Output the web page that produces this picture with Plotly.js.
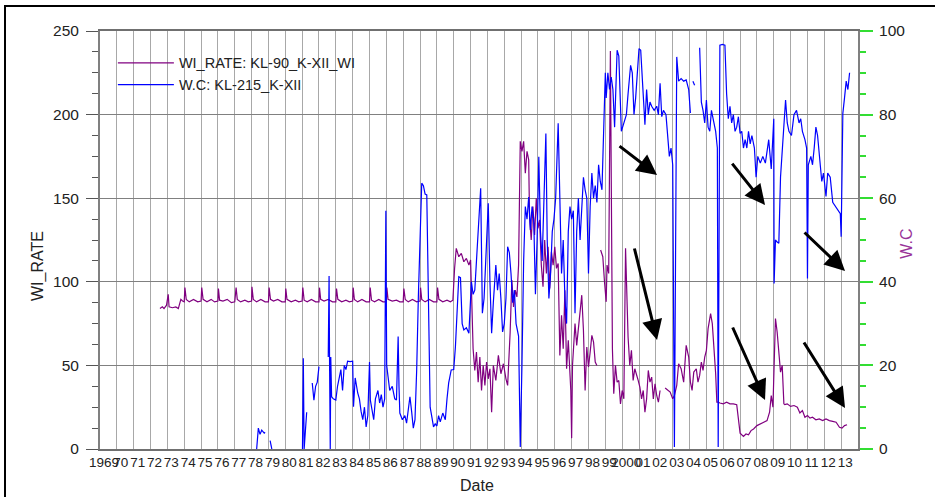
<!DOCTYPE html>
<html>
<head>
<meta charset="utf-8">
<script src="https://cdn.plot.ly/plotly-3.0.1.min.js"></script>
<style>
html,body{margin:0;padding:0;background:#fff;}
#wrap{position:relative;width:935px;height:497px;overflow:hidden;}
#chart{width:935px;height:497px;}
#frame{position:absolute;left:4px;top:5px;width:1200px;height:800px;border-left:2px solid #000;border-top:2px solid #000;pointer-events:none;}
</style>
</head>
<body>
<div id="wrap"><div id="chart"></div><div id="frame"></div></div>
<script>
// ---------- tick labels ----------
const yearTicks = [1969,1970,1971,1972,1973,1974,1975,1976,1977,1978,1979,1980,1981,1982,1983,1984,1985,1986,1987,1988,1989,1990,1991,1992,1993,1994,1995,1996,1997,1998,1999,2000,2001,2002,2003,2004,2005,2006,2007,2008,2009,2010,2011,2012,2013];
const yearLabels = ["1969","70","71","72","73","74","75","76","77","78","79","80","81","82","83","84","85","86","87","88","89","90","91","92","93","94","95","96","97","98","99","2000","01","02","03","04","05","06","07","08","09","10","11","12","13"];

// ---------- series names ----------
const wiName = "WI_RATE: KL-90_K-XII_WI";
const wcName = "W.C: KL-215_K-XII";

// ---------- WI_RATE (left axis) ----------
const wiDates = [
1972.56,1972.7,1972.8,1972.95,1973.05,1973.1,1973.3,1973.5,1973.65,1973.8,1973.9,
1974.0,1974.04,1974.12,1974.3,1974.55,1974.8,
1975.0,1975.04,1975.12,1975.35,1975.6,1975.8,
1976.0,1976.03,1976.1,1976.3,1976.55,1976.8,
1977.0,1977.08,1977.15,1977.35,1977.6,1977.8,
1978.0,1978.02,1978.1,1978.3,1978.55,1978.8,
1979.0,1979.04,1979.12,1979.3,1979.55,1979.8,
1980.0,1980.03,1980.1,1980.35,1980.6,1980.8,
1981.0,1981.04,1981.12,1981.3,1981.55,1981.8,
1982.0,1982.03,1982.1,1982.3,1982.55,1982.8,
1983.0,1983.04,1983.12,1983.35,1983.6,1983.8,
1984.0,1984.03,1984.1,1984.3,1984.55,1984.8,
1985.0,1985.04,1985.12,1985.3,1985.55,1985.8,
1986.0,1986.03,1986.1,1986.35,1986.6,1986.8,
1987.0,1987.04,1987.12,1987.3,1987.55,1987.8,
1988.0,1988.03,1988.1,1988.3,1988.55,1988.8,
1989.0,1989.04,1989.12,1989.35,1989.6,1989.8,1989.95,
1990.05,1990.15,1990.3,1990.45,1990.6,1990.75,1990.9,1991.0,1991.07,1991.15,1991.25,1991.35,1991.45,1991.55,1991.65,1991.75,1991.85,1991.95,
1992.05,1992.15,1992.25,1992.35,1992.5,1992.65,1992.8,1992.95,1993.1,1993.2,1993.35,1993.45,1993.55,1993.65,1993.75,1993.85,1993.95,
1994.05,1994.15,1994.25,1994.35,1994.45,1994.5,1994.6,1994.7,1994.8,1994.9,1995.0,1995.1,1995.2,1995.3,1995.4,1995.5,1995.6,1995.7,1995.8,1995.9,
1996.0,1996.1,1996.2,1996.3,1996.4,1996.5,1996.6,1996.7,1996.8,1996.95,1997.0,1997.05,1997.2,1997.3,1997.45,1997.6,1997.7,1997.8,1997.9,
1998.0,1998.1,1998.2,1998.3,1998.4,1998.5,1998.62,1998.72,1998.85,1998.95,1999.05,1999.1,1999.2,1999.3,1999.38,1999.42,1999.5,1999.6,1999.7,1999.8,1999.9,
2000.0,2000.1,2000.2,2000.35,2000.45,2000.55,2000.65,2000.75,2000.85,2000.95,2001.05,2001.15,2001.25,2001.35,2001.45,2001.55,2001.65,2001.75,2001.85,2001.95,
2002.05,2002.15,2002.25,2002.3,2002.55,2002.85,2003.0,2003.1,2003.24,2003.35,2003.5,2003.65,2003.8,2003.95,2004.05,2004.15,2004.25,2004.4,2004.5,2004.6,2004.7,2004.8,2004.9,
2005.0,2005.1,2005.25,2005.35,2005.45,2005.55,2005.62,2005.7,2005.8,2006.0,2006.2,2006.4,2006.6,2006.8,2007.0,2007.05,2007.2,2007.35,2007.5,2007.65,2007.8,
2008.0,2008.2,2008.4,2008.6,2008.75,2008.85,2008.95,2009.0,2009.1,2009.2,2009.3,2009.4,2009.5,2009.6,2009.65,2009.8,
2010.0,2010.2,2010.4,2010.55,2010.7,2010.85,2011.0,2011.15,2011.3,2011.5,2011.7,2011.9,2012.1,2012.3,2012.5,2012.7,2012.9,2013.05,2013.2,2013.35,2013.5
];
const wiRate = [
84,85,84,86,92.5,85,84.5,85,84,89.5,88.5,
88,96.5,89.5,88,89.5,88,
88.5,96.5,89.5,88,89.5,88,
88.5,96,89,88.5,89.5,87.5,
88,96.5,89.5,88,89,88,
88.5,97,89.5,88,89.5,88,
88,96.5,89.5,88.5,89.5,88,
88,96,89.5,88,89,88,
88.5,96.5,89,88,89.5,88,
88,96.5,89.5,88.5,89.5,88,
88,96,89.5,88,89,88,
88.5,96.5,89.5,88,89.5,88,
88,96.5,89,88,89.5,88,
88,96.5,89.5,88.5,89,88,
88,96,89.5,88,89.5,88,
88.5,96.5,89.5,88,89.5,88,
88,96.5,89.5,88,89,88,89,
108,120,115,117,112,114,110,113,89,60,47,58,40,55,35,50,38,52,
42,48,22,50,41,56,45,51,42,38,70,101,85,95,91,110,184,
178,184,165,178,173,139,125,145,128,150,132,137,110,97,125,105,121,96,118,110,
121,108,111,56,80,60,95,48,65,35,6.5,50,75,62,78,92,71,35,61,
49,58,68,64,52,50,null,119,115,100,88,110,105,238,148,60,33,50,40,41,
27,35,30,120,67,50,59,41,48,45,41,37,30,35,22,30,47,40,43,30,
39,32,28,35,null,36.5,34,30,32,38,51,48,40,62,55,40,35,46,48,40,44,52,47,
55,59,72,81,75,62,45,28,28,27.5,27,28,27,27,26.5,9.5,9,7.5,9,8.5,11,
12,14,15,16,17,22,32,25,50,78,70,57,46,50,27,26.5,
27,25.5,26,25,21.5,23,19,20,18.5,19,17.5,18,17,18,17,16.5,16,13,12.5,14,14.5
];

// ---------- W.C (right axis) ----------
const wcDates = [
1978.3,1978.4,1978.5,1978.6,1978.75,1978.8,1978.95,1979.1,1979.2,1980.5,
1981.02,1981.07,1981.12,1981.2,1981.27,1981.4,1981.6,1981.65,1981.7,1981.8,1981.9,1982.0,1982.3,
1982.55,1982.6,1982.63,1982.67,1982.7,1982.75,1982.85,1983.0,1983.1,1983.2,1983.3,1983.4,1983.5,1983.6,1983.7,1983.85,
1984.0,1984.05,1984.15,1984.3,1984.4,1984.5,1984.6,1984.7,1984.8,1984.9,
1985.0,1985.05,1985.15,1985.25,1985.35,1985.5,1985.6,1985.7,1985.8,1985.9,1985.97,
1986.02,1986.1,1986.2,1986.35,1986.5,1986.6,1986.7,1986.75,1986.8,1986.95,
1987.1,1987.2,1987.3,1987.4,1987.5,1987.6,1987.7,1987.8,1987.9,
1988.05,1988.1,1988.2,1988.3,1988.4,1988.5,1988.6,1988.7,1988.8,1988.9,
1989.0,1989.1,1989.2,1989.35,1989.5,1989.6,1989.7,1989.85,
1990.0,1990.1,1990.2,1990.3,1990.4,1990.5,1990.6,1990.75,1990.9,
1991.05,1991.15,1991.25,1991.35,1991.5,1991.6,1991.7,1991.8,1991.9,
1992.05,1992.15,1992.25,1992.35,1992.5,1992.6,1992.7,1992.8,1992.9,
1993.0,1993.1,1993.2,1993.3,1993.4,1993.5,1993.6,1993.7,1993.85,1993.95,
1994.05,1994.15,1994.25,1994.35,1994.45,1994.55,1994.65,1994.75,1994.85,1994.95,
1995.05,1995.15,1995.25,1995.35,1995.47,1995.55,1995.65,1995.75,1995.85,1995.95,
1996.05,1996.2,1996.3,1996.4,1996.5,1996.6,1996.7,1996.8,1996.9,
1997.0,1997.1,1997.2,1997.3,1997.4,1997.5,1997.6,1997.7,1997.8,1997.9,
1998.0,1998.1,1998.2,1998.3,1998.4,1998.5,1998.6,1998.7,1998.8,1998.9,
1999.0,1999.05,1999.15,1999.25,1999.35,1999.45,1999.55,1999.7,1999.8,1999.95,
2000.1,2000.25,2000.35,2000.5,2000.6,2000.7,2000.8,2000.9,
2001.0,2001.1,2001.2,2001.25,2001.35,2001.45,2001.55,2001.65,2001.75,2001.9,
2002.05,2002.15,2002.25,2002.35,2002.45,2002.6,2002.7,2002.8,2002.9,
2003.0,2003.1,2003.2,2003.24,2003.35,2003.5,2003.65,2003.8,2003.95,
2004.05,2004.15,2004.2,2004.3,2004.45,2004.6,2004.7,2004.8,2004.9,
2005.0,2005.1,2005.2,2005.3,2005.4,2005.55,2005.65,2005.7,2005.8,2005.95,
2006.1,2006.2,2006.3,2006.4,2006.5,2006.6,2006.7,2006.8,2006.9,
2007.0,2007.1,2007.2,2007.3,2007.4,2007.5,2007.6,2007.7,2007.85,2007.95,
2008.05,2008.2,2008.35,2008.5,2008.7,2008.85,
2009.0,2009.02,2009.1,2009.2,2009.3,2009.4,2009.55,2009.7,2009.8,2009.9,
2010.05,2010.2,2010.35,2010.5,2010.6,2010.7,2010.85,2010.95,
2011.0,2011.05,2011.2,2011.3,2011.4,2011.5,2011.6,2011.75,2011.85,2011.95,
2012.1,2012.2,2012.35,2012.5,2012.65,2012.8,2012.95,
2013.0,2013.1,2013.2,2013.3,2013.4,2013.5
];
const wcValues = [
0,5,3.5,4.5,3.8,4,null,2,0,null,
0,21.7,0,6,8.8,null,15.8,14,11.7,15,16,19.7,null,
22,41.4,20,0,22,12.5,12,11.7,15,17,19,14,20,19,21,20.9,
21,10.1,17,13.4,12,9,7,10,5.3,8,
20.8,11.7,9,7,12,14,11,13,10,12,57,
20,17.3,14,15,12,11.7,26.9,15,8.6,7,
8,6.2,10,12.5,9,5,7,18.9,36.4,
55,63.6,63,61,60.8,28.5,10,7.7,5.3,6,
5.5,8,6.5,8.6,7,12,15.8,18.9,
19,24.5,32.5,41.2,41,30,28.5,29,27.7,
40,37,38,45,55,62.4,32.5,36,45,
58.8,40,27.7,35,44,38,42,36,28,
30,36,48.4,47,42,35,38,30,27,0.5,
20,45,58,55,60.3,52.4,58,55,37,50,
69.9,52,45,60,75.5,50,36,42,52,55,
60,77.9,60,42,50,36,30,52,58,
55,57,32.5,52,60,50,58,65,62,60,
42,58,66,60,63,59,68,64,62,74.6,
90,84,90,86,89,86,77,95.4,94,76,
78,80,85,91.8,90,80,84,90,
95.8,95.4,88,82.7,77.6,86,80,83,82,81,
82,80,87.5,79.5,81,80,74,70,72,
68,0.5,60,93.8,88,88.6,88,88.3,86,
80.4,null,88,87,null,96,83,81,78,
83.5,77,76,81,79,76,72,0.5,96.6,96.8,
96.6,85,79,82,78,80,76,77,79.5,
75.5,76,72,74,72,76,73,75,72,65,
70,68.4,70,68.4,74,67,
79,39.6,50,49.5,49.2,65,75,83.5,78,76,
75,80,81,78,79,76,74,72,
40.8,68,70,68,72,77,75,68.4,64,66,
60.4,66,65,59,58,57,56.3,
50.8,80.3,84,88,86,90
];

// ---------- annotation arrows (tip position in data units, tail offset in px) ----------
const arrowTipX = [2002.07, 2002.07, 2008.48, 2013.23, 2008.48, 2013.23];
const arrowTipY = [163.9, 65.2, 145.9, 106.4, 29.3, 24.5];
const arrowAx = [-39, -23, -34, -42, -33, -42];
const arrowAy = [-30, -93, -43, -40, -74, -67];

const FONT = "'Liberation Sans', Arial, sans-serif";

const traces = [
  {x: wiDates, y: wiRate, type: 'scatter', mode: 'lines', name: wiName,
   line: {color: '#800080', width: 1.2}, connectgaps: false, yaxis: 'y'},
  {x: wcDates, y: wcValues, type: 'scatter', mode: 'lines', name: wcName,
   line: {color: '#0000ff', width: 1.2}, connectgaps: false, yaxis: 'y2'}
];

const annotations = arrowTipX.map((x, i) => ({
  x: x, y: arrowTipY[i], xref: 'x', yref: 'y', ax: arrowAx[i], ay: arrowAy[i],
  axref: 'pixel', ayref: 'pixel', text: '', showarrow: true,
  arrowhead: 2, arrowsize: 1.35, arrowwidth: 3, arrowcolor: '#000', standoff: 0
}));
annotations.push(
  {text: 'WI_RATE', xref: 'paper', yref: 'paper', x: -0.0818, y: 0.4378, showarrow: false,
   xanchor: 'center', yanchor: 'middle',
   textangle: -90, font: {family: FONT, size: 16, color: '#222'}},
  {text: 'W.C', xref: 'paper', yref: 'paper', x: 1.064, y: 0.49, showarrow: false,
   xanchor: 'center', yanchor: 'middle',
   textangle: -90, font: {family: FONT, size: 16, color: '#993399'}},
  {text: 'Date', xref: 'paper', yref: 'paper', x: 0.497, y: -0.088, showarrow: false,
   xanchor: 'center', yanchor: 'middle',
   font: {family: FONT, size: 16, color: '#222'}}
);

const layout = {
  width: 935, height: 497,
  margin: {l: 100, r: 77, t: 31, b: 48, pad: 0},
  paper_bgcolor: '#fff', plot_bgcolor: '#fff',
  font: {family: FONT, size: 14, color: '#222'},
  showlegend: true,
  legend: {x: 0.017, y: 0.962, xanchor: 'left', yanchor: 'top', bgcolor: 'rgba(0,0,0,0)',
           font: {family: FONT, size: 14.5, color: '#222'}, itemwidth: 56, tracegroupgap: 0},
  xaxis: {range: [1969, 2014], tickmode: 'array', tickvals: yearTicks, ticktext: yearLabels,
          showgrid: true, gridcolor: '#a8a8a8', gridwidth: 1, zeroline: false,
          showline: true, linecolor: '#707070', linewidth: 2, mirror: true,
          ticks: '', tickfont: {family: FONT, size: 13.5, color: '#222'}, tickangle: 0,
          ticklabelshift: 4},
  yaxis: {range: [0, 250], dtick: 50, tick0: 0, ticks: 'outside', ticklen: 12, tickwidth: 1,
          tickcolor: '#555', showline: true, linecolor: '#808080', linewidth: 2,
          gridcolor: '#808080', gridwidth: 1, zeroline: false, ticklabelstandoff: 4,
          tickfont: {family: FONT, size: 15.5, color: '#222'},
          minor: {dtick: 12.5, ticklen: 6, ticks: 'outside', tickcolor: '#555', showgrid: false}},
  yaxis2: {range: [0, 100], dtick: 20, tick0: 0, overlaying: 'y', side: 'right',
           ticks: 'outside', ticklen: 13, tickwidth: 2, tickcolor: '#33dd33',
           showline: true, linecolor: '#808080', linewidth: 2, showgrid: false, zeroline: false,
           ticklabelstandoff: 3,
           tickfont: {family: FONT, size: 15.5, color: '#222'},
           minor: {dtick: 5, ticklen: 6, ticks: 'outside', tickcolor: '#33dd33', tickwidth: 2, showgrid: false}},
  annotations: annotations
};

Plotly.newPlot('chart', traces, layout, {displayModeBar: false, staticPlot: true});
</script>
</body>
</html>
